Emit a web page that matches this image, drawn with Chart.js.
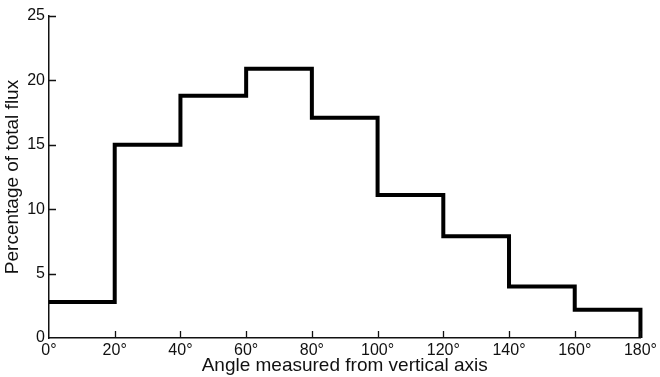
<!DOCTYPE html>
<html>
<head>
<meta charset="utf-8">
<script src="https://cdn.jsdelivr.net/npm/chart.js@4"></script>
<style>
  html, body { margin: 0; padding: 0; background: #fff; }
  #wrap { width: 660px; height: 377px; }
</style>
</head>
<body>
<div id="wrap"><canvas id="fluxChart" width="660" height="377"></canvas></div>
<script>
// Bin edges (degrees from vertical) and the share of flux in each bin
const binEdges = [0, 20, 40, 60, 80, 100, 120, 140, 160, 180];
const fluxPercent = [2.8, 15.0, 18.8, 20.9, 17.1, 11.1, 7.9, 4.0, 2.2];
const xTickValues = [0, 20, 40, 60, 80, 100, 120, 140, 160, 180];
const yTickValues = [0, 5, 10, 15, 20, 25];

// step outline: one point per bin left edge, then down to zero at the last edge
const points = fluxPercent.map((v, i) => ({ x: binEdges[i], y: v }));
points.push({ x: binEdges[binEdges.length - 1], y: 0 });

const FONT = "'Liberation Sans', Arial, Helvetica, sans-serif";
const INK = "#111";

// tick marks pointing into the plot, like a printed figure
const insideTicks = {
    id: "insideTicks",
    afterDraw(chart) {
        const { ctx, scales: { x, y } } = chart;
        const len = 7;
        ctx.save();
        ctx.strokeStyle = INK;
        ctx.lineWidth = 1.3;
        ctx.beginPath();
        xTickValues.forEach(v => {
            if (v === 0) return;
            const px = Math.round(x.getPixelForValue(v)) + 0.5;
            ctx.moveTo(px, y.bottom);
            ctx.lineTo(px, y.bottom - len);
        });
        yTickValues.forEach(v => {
            if (v === 0) return;
            const py = Math.round(y.getPixelForValue(v)) + 0.5;
            ctx.moveTo(x.left, py);
            ctx.lineTo(x.left + len, py);
        });
        ctx.stroke();
        ctx.restore();
    }
};

new Chart(document.getElementById("fluxChart"), {
    type: "line",
    data: {
        datasets: [{
            data: points,
            borderColor: "#000",
            borderWidth: 4,
            stepped: "before",
            pointRadius: 0,
            fill: false,
            borderJoinStyle: "miter",
            borderCapStyle: "butt",
            clip: false
        }]
    },
    options: {
        responsive: false,
        animation: false,
        layout: { padding: { top: 16, right: 14, left: 0, bottom: 0 } },
        plugins: {
            legend: { display: false },
            tooltip: { enabled: false }
        },
        scales: {
            x: {
                type: "linear",
                min: 0,
                max: 180,
                afterBuildTicks: scale => {
                    scale.ticks = xTickValues.map(v => ({ value: v }));
                },
                afterFit: scale => { scale.height = 39; },
                ticks: {
                    color: INK,
                    font: { family: FONT, size: 16 },
                    padding: 3,
                    maxRotation: 0,
                    callback: v => v + "°"
                },
                grid: { display: true, drawOnChartArea: false, drawTicks: false },
                border: { display: true, color: INK, width: 1.5 },
                title: {
                    display: true,
                    text: "Angle measured from vertical axis",
                    color: INK,
                    font: { family: FONT, size: 19 },
                    padding: { top: 0, bottom: 0 }
                }
            },
            y: {
                min: 0,
                max: 25,
                afterBuildTicks: scale => {
                    scale.ticks = yTickValues.map(v => ({ value: v }));
                },
                afterFit: scale => { scale.width = 49; },
                ticks: {
                    color: INK,
                    font: { family: FONT, size: 16 },
                    padding: 4
                },
                grid: { display: true, drawOnChartArea: false, drawTicks: false },
                border: { display: true, color: INK, width: 1.5 },
                title: {
                    display: true,
                    text: "Percentage of total flux",
                    color: INK,
                    font: { family: FONT, size: 19 },
                    padding: { top: 1, bottom: 0 }
                }
            }
        }
    },
    plugins: [insideTicks]
});
</script>
</body>
</html>
